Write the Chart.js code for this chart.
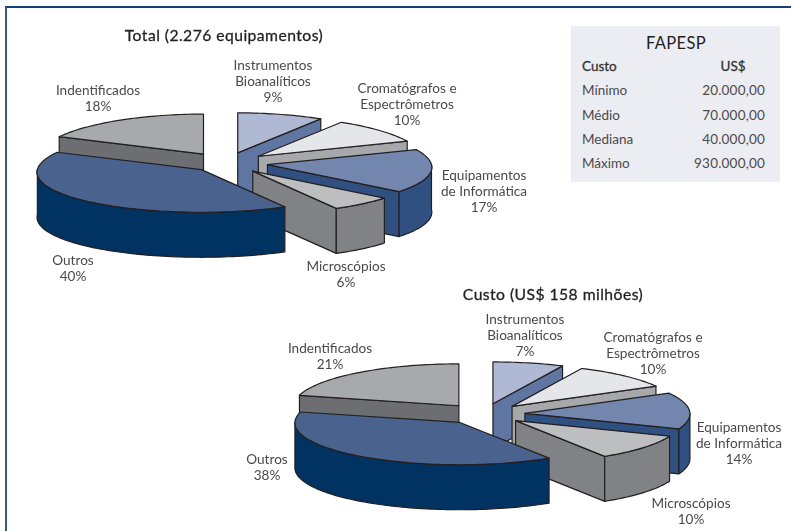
<!DOCTYPE html>
<html>
<head>
<meta charset="utf-8">
<script src="https://cdn.jsdelivr.net/npm/chart.js@4"></script>
<style>
  html, body { margin: 0; padding: 0; background: #fff; }
  #page { position: relative; width: 791px; height: 531px; overflow: hidden;
    font-family: "Lato", sans-serif; color: #4a4a4c; }
  #frame { position: absolute; left: 5px; top: 6px; right: 0; bottom: 0;
    border-top: 2px solid #11417a; border-left: 2px solid #2f5c94; }
  canvas { position: absolute; }
  .lbl { position: absolute; transform: translateX(-50%); text-align: center; white-space: nowrap;
    font-size: 13.6px; line-height: 16px; }
  .ttl { position: absolute; transform: translateX(-50%); white-space: nowrap;
    font-size: 15.7px; line-height: 18px; color: #231f20; letter-spacing: 0.45px;
    -webkit-text-stroke: 0.3px #231f20; }
  #box { position: absolute; left: 571px; top: 26px; width: 209px; height: 156px; background: #ecedf2; }
  #box div { position: absolute; font-size: 13.5px; line-height: 16px; white-space: nowrap; }
</style>
</head>
<body>
<div id="page">
  <div id="frame"></div>
  <canvas id="totalPie" width="440" height="216"></canvas>
  <canvas id="costPie" width="430" height="216"></canvas>
  <div id="box"></div>
</div>
<script>
const categories = [
  ["Instrumentos", "Bioanalíticos"],
  ["Cromatógrafos e", "Espectrômetros"],
  ["Equipamentos", "de Informática"],
  ["Microscópios"],
  ["Outros"],
  ["Indentificados"],
];
const totalShare = [9, 10, 17, 6, 40, 18];
const costShare = [7, 10, 14, 10, 38, 21];

const tableTitle = "FAPESP";
const tableHeader = ["Custo", "US$"];
const tableRows = ["Mínimo", "Médio", "Mediana", "Máximo"];
const tableValues = ["20.000,00", "70.000,00", "40.000,00", "930.000,00"];

const topColors = ["#b0b9d4", "#e4e6e9", "#7386ad", "#bcbec0", "#4a628e", "#a7a9ac"];
const wallColors = ["#5f76a3", "#a6a8ab", "#2f5080", "#808285", "#003262", "#6d6e71"];

// Ident goes first, Outros last, so the nearer slices cover the walls behind them
const paintOrder = [5, 0, 1, 2, 3, 4];
const page = document.getElementById("page");

function sliceAt(arc, pie, i) {
  const mid = (arc.startAngle + arc.endAngle) / 2;
  const explode = pie.explode[i];
  return {
    x: arc.x + Math.cos(mid) * explode,
    y: arc.y + Math.sin(mid) * explode * pie.squash,
    start: arc.startAngle,
    end: arc.endAngle,
    r: arc.outerRadius,
    squash: pie.squash,
    near: pie.near,
  };
}

// rim point: the near side of the pie is drawn a bit bigger than the far side
function rim(s, angle) {
  const sin = Math.sin(angle);
  return [
    s.x + Math.cos(angle) * s.r * (1 + s.near * sin),
    s.y + sin * s.r * s.squash * (1 + (s.near / 2) * sin),
  ];
}

function traceRim(ctx, s, from, to, dy) {
  const steps = Math.max(2, Math.ceil(Math.abs(to - from) * 40));
  for (let n = 0; n <= steps; n++) {
    const p = rim(s, from + ((to - from) * n) / steps);
    ctx.lineTo(p[0], p[1] + dy);
  }
}

function radialWall(ctx, s, angle, depth) {
  const p = rim(s, angle);
  ctx.beginPath();
  ctx.moveTo(s.x, s.y);
  ctx.lineTo(p[0], p[1]);
  ctx.lineTo(p[0], p[1] + depth);
  ctx.lineTo(s.x, s.y + depth);
  ctx.closePath();
  ctx.fill();
  ctx.stroke();
}

function outerWall(ctx, s, depth) {
  const a0 = Math.max(s.start, 0);
  const a1 = Math.min(s.end, Math.PI);
  if (a1 <= a0) return;
  ctx.beginPath();
  traceRim(ctx, s, a0, a1, 0);
  traceRim(ctx, s, a1, a0, depth);
  ctx.closePath();
  ctx.fill();
  ctx.stroke();
}

const pie3d = {
  id: "pie3d",
  beforeDatasetDraw(chart) {
    const ctx = chart.ctx;
    const pie = chart.options.plugins.pie3d;
    const arcs = chart.getDatasetMeta(0).data;
    ctx.save();
    ctx.lineWidth = 1.2;
    ctx.lineJoin = "round";
    ctx.strokeStyle = "#231f20";
    paintOrder.forEach((i) => {
      const s = sliceAt(arcs[i], pie, i);
      ctx.fillStyle = wallColors[i];
      if (Math.cos(s.start) < -0.001) radialWall(ctx, s, s.start, pie.depth);
      if (Math.cos(s.end) > 0.001) radialWall(ctx, s, s.end, pie.depth);
      outerWall(ctx, s, pie.depth);
      ctx.fillStyle = topColors[i];
      ctx.beginPath();
      ctx.moveTo(s.x, s.y);
      traceRim(ctx, s, s.start, s.end, 0);
      ctx.closePath();
      ctx.fill();
      ctx.stroke();
    });
    ctx.restore();
    return false;
  },
};

function makePie(id, values, pie) {
  const canvas = document.getElementById(id);
  canvas.style.left = pie.cx - canvas.width / 2 + "px";
  canvas.style.top = pie.cy - canvas.height / 2 + "px";
  return new Chart(canvas, {
    type: "pie",
    data: {
      labels: categories.map((c) => c.join(" ")),
      datasets: [{ data: values, backgroundColor: topColors, borderWidth: 0 }],
    },
    options: {
      animation: false,
      responsive: false,
      events: [],
      radius: pie.r,
      plugins: { legend: { display: false }, tooltip: { enabled: false }, pie3d: pie },
    },
    plugins: [pie3d],
  });
}

makePie("totalPie", totalShare, {
  cx: 226, cy: 163, r: 164, squash: 0.252, near: 0.065, depth: 45,
  explode: [42, 42, 42, 42, 36, 42],
});
makePie("costPie", costShare, {
  cx: 484, cy: 414, r: 165, squash: 0.255, near: 0.01, depth: 45,
  explode: [41, 41, 41, 41, 41, 41],
});

function addLabels(values, spots) {
  values.forEach((v, i) => {
    const el = document.createElement("div");
    el.className = "lbl";
    el.style.left = spots[i][0] + "px";
    el.style.top = spots[i][1] - 8 + "px";
    el.innerHTML = [...categories[i], v + "%"].join("<br>");
    page.appendChild(el);
  });
}

addLabels(totalShare, [[273, 65], [407, 88], [484, 175], [346, 266], [73, 260], [98, 90]]);
addLabels(costShare, [[525, 319], [653, 337], [739, 427], [691, 503], [267, 459], [330, 348]]);

function addTitle(text, x, y) {
  const el = document.createElement("div");
  el.className = "ttl";
  el.style.left = x + "px";
  el.style.top = y - 9 + "px";
  el.textContent = text;
  page.appendChild(el);
}

addTitle("Total (2.276 equipamentos)", 224, 35);
addTitle("Custo (US$ 158 milhões)", 553, 294);

const box = document.getElementById("box");
function addCell(text, css) {
  const el = document.createElement("div");
  el.textContent = text;
  el.style.cssText = css;
  box.appendChild(el);
}

addCell(tableTitle, "left:0;width:210px;text-align:center;top:9px;font-size:16.5px;letter-spacing:0.4px;color:#231f20");
addCell(tableHeader[0], "left:11px;top:32px;color:#333;-webkit-text-stroke:0.3px #333");
addCell(tableHeader[1], "left:132px;width:60px;text-align:center;top:32px;color:#333;-webkit-text-stroke:0.3px #333");
tableRows.forEach((row, i) => {
  const top = [56, 81, 105, 129][i];
  addCell(row, `left:11px;top:${top}px`);
  addCell(tableValues[i], `right:15px;top:${top}px;letter-spacing:0.2px`);
});
</script>
</body>
</html>
